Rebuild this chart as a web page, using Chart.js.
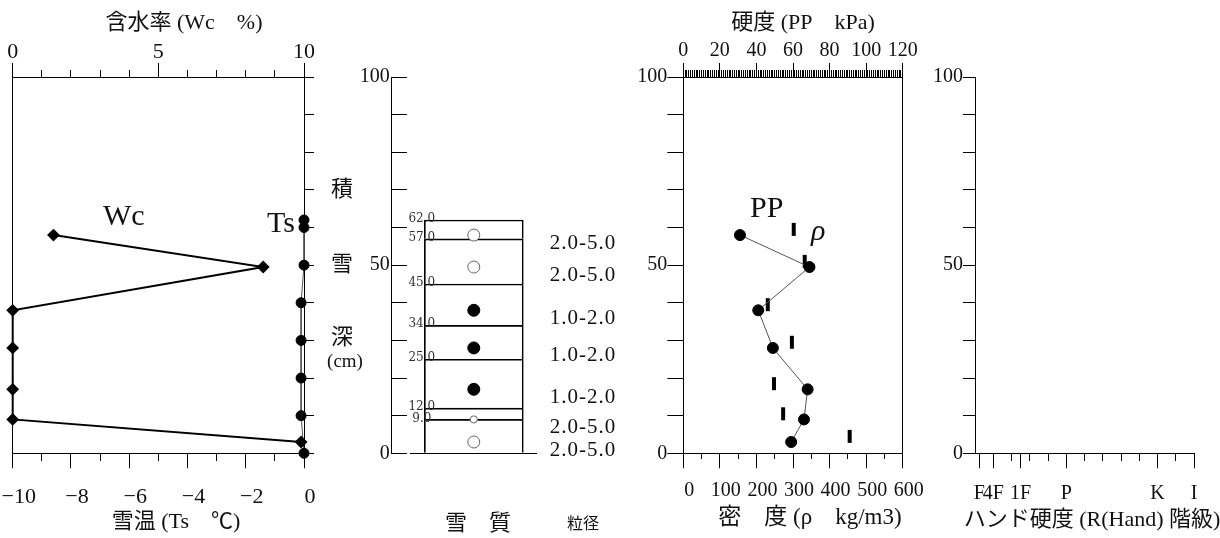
<!DOCTYPE html>
<html>
<head>
<meta charset="utf-8">
<script src="https://cdn.jsdelivr.net/npm/chart.js@4/dist/chart.umd.min.js"></script>
<style>
  body { margin: 0; background: #fff; }
  #wrap { position: relative; width: 1220px; height: 538px; overflow: hidden; }
  #wrap canvas { position: absolute; top: 0; }
</style>
</head>
<body>
<div id="wrap">
  <canvas id="c1" width="330" height="538" style="left:0px"></canvas>
  <canvas id="c2" width="300" height="538" style="left:320px"></canvas>
  <canvas id="c3" width="310" height="538" style="left:620px"></canvas>
  <canvas id="c4" width="300" height="538" style="left:920px"></canvas>
</div>
<script>
// sampling depths (cm) used for Wc, PP and the grain symbols
const sampleDepth = [58, 49.5, 38, 28, 17, 9, 3];
const waterContent = [1.4, 8.6, 0, 0, 0, 0, 9.9];   // Wc %
const hardnessPP = [31, 69, 41, 49, 68, 66, 59];     // kPa

// snow temperature profile
const tempDepth = [62, 60, 50, 40, 30, 20, 10, 0];
const snowTemp = [0, 0, 0, -0.1, -0.1, -0.1, -0.1, 0];

// density, one value per layer
const densityDepth = [59.5, 51, 39.5, 29.5, 18.5, 10.5, 4.5];
const density = [302, 332, 231, 297, 248, 273, 455];

// layers (top / bottom in cm), grain type and grain size
const layerTop = [62, 57, 45, 34, 25, 12, 9];
const layerBottom = [57, 45, 34, 25, 12, 9, 0];
const grainType = ['ざらめ雪', 'ざらめ雪', 'しまり雪', 'しまり雪', 'しまり雪', 'ざらめ雪', 'ざらめ雪'];
const grainSize = ['2.0-5.0', '2.0-5.0', '1.0-2.0', '1.0-2.0', '1.0-2.0', '2.0-5.0', '2.0-5.0'];

// hand hardness classes on the R scale
const handLabels = ['F', '4F', '1F', 'P', 'K', 'I'];
const handPos = [12, 50, 125, 250, 500, 600];

const SERIF = '"Liberation Serif", "Noto Sans CJK JP", serif';
Chart.defaults.font.family = SERIF;
Chart.defaults.color = '#111';
Chart.defaults.animation = false;
Chart.defaults.plugins.legend.display = false;
Chart.defaults.plugins.tooltip.enabled = false;

const BOX_X = 0.565;   // centre of the layer column on the hidden x axis
const BLACK = { color: '#000' };

// fix an axis to a set thickness so the four panels line up
function fixSize(size) {
    return scale => {
        if (scale.isHorizontal()) scale.height = size;
        else scale.width = size;
        scale.paddingLeft = scale.paddingRight = 0;
        scale.paddingTop = scale.paddingBottom = 0;
    };
}

// free text (titles, series names), given in page coordinates
function notes(left, items) {
    return {
        id: 'notes',
        afterDraw(chart) {
            const ctx = chart.ctx;
            ctx.save();
            items.forEach(it => {
                ctx.font = it.font || '22px ' + SERIF;
                ctx.fillStyle = '#111';
                ctx.textAlign = it.align || 'center';
                ctx.textBaseline = it.base || 'middle';
                ctx.fillText(it.text, it.x - left, it.y);
            });
            ctx.restore();
        }
    };
}

const depthTicks = (size, len, pad) => ({
    type: 'linear', min: 0, max: 100, afterFit: fixSize(size),
    ticks: { stepSize: 10, autoSkip: false, padding: pad, font: { size: 20, lineHeight: 1 },
        callback: v => v % 50 === 0 ? v : '' },
    grid: { drawOnChartArea: false, tickLength: len, color: '#000' },
    border: BLACK
});

// ---- panel 1: water content and snow temperature
new Chart(document.getElementById('c1'), {
    type: 'scatter',
    data: {
        datasets: [
            {
                xAxisID: 'wc', yAxisID: 'y', showLine: true, clip: false,
                data: sampleDepth.map((d, i) => ({ x: waterContent[i], y: d })),
                borderColor: '#000', borderWidth: 2,
                pointStyle: 'rectRot', pointRadius: 5,
                pointBackgroundColor: '#000', pointBorderColor: '#000'
            },
            {
                xAxisID: 'ts', yAxisID: 'y', showLine: true, clip: false,
                data: tempDepth.map((d, i) => ({ x: snowTemp[i], y: d })),
                borderColor: '#555', borderWidth: 1, pointRadius: 5,
                pointBackgroundColor: '#000', pointBorderColor: '#000'
            }
        ]
    },
    options: {
        responsive: false,
        scales: {
            wc: {
                axis: 'x', type: 'linear', position: 'top', min: 0, max: 10, afterFit: fixSize(77),
                ticks: { stepSize: 1, autoSkip: false, maxRotation: 0, padding: 0,
                    font: { size: 22, lineHeight: 1 }, callback: v => v % 5 === 0 ? v : '' },
                grid: { drawOnChartArea: false, tickLength: 14, color: '#000',
                    tickBorderDash: c => c.tick && c.tick.value % 5 !== 0 ? [7, 7] : [],
                    tickBorderDashOffset: 7 },
                border: BLACK
            },
            ts: {
                axis: 'x', type: 'linear', position: 'bottom', min: -10, max: 0, afterFit: fixSize(84.7),
                ticks: { stepSize: 1, autoSkip: false, maxRotation: 0, padding: 18, labelOffset: 6,
                    font: { size: 22, lineHeight: 1 },
                    callback: v => v % 2 === 0 ? String(v).replace('-', '\u2212') : '' },
                grid: { drawOnChartArea: false, tickLength: 15, color: '#000',
                    tickBorderDash: c => c.tick && c.tick.value % 2 !== 0 ? [7, 100] : [] },
                border: BLACK
            },
            y: {
                type: 'linear', position: 'right', min: 0, max: 100, afterFit: fixSize(26),
                ticks: { display: false, stepSize: 10 },
                grid: { drawOnChartArea: false, tickLength: 10, color: '#000' },
                border: BLACK
            },
            yl: {
                type: 'linear', position: 'left', min: 0, max: 100, afterFit: fixSize(12.7),
                ticks: { display: false }, grid: { display: false }, border: BLACK
            }
        }
    },
    plugins: [notes(0, [
        { text: '含水率 (Wc　%)', x: 184, y: 23 },
        { text: '雪温 (Ts　℃)', x: 176, y: 522 },
        { text: 'Wc', x: 103, y: 225, align: 'left', base: 'alphabetic', font: '30px ' + SERIF },
        { text: 'Ts', x: 267, y: 232, align: 'left', base: 'alphabetic', font: '30px ' + SERIF }
    ])]
});

// ---- panel 2: layers, grain type and grain size
const layerText = {
    id: 'layerText',
    afterDatasetsDraw(chart) {
        const { ctx, scales: { x, y } } = chart;
        const cx = x.getPixelForValue(BOX_X);
        ctx.save();
        ctx.textBaseline = 'middle';
        ctx.textAlign = 'center';
        ctx.fillStyle = '#333';
        ctx.font = '12px "DejaVu Serif"';
        layerTop.forEach(t => ctx.fillText(t.toFixed(1), cx - 52, y.getPixelForValue(t) - 1));
        ctx.textAlign = 'left';
        ctx.fillStyle = '#111';
        ctx.font = '21px "Liberation Serif"';
        ctx.letterSpacing = '1px';
        sampleDepth.forEach((d, i) => ctx.fillText(grainSize[i], cx + 76, y.getPixelForValue(d) + 8));
        ctx.restore();
    }
};

new Chart(document.getElementById('c2'), {
    type: 'scatter',
    data: {
        datasets: [
            {
                type: 'scatter',
                data: sampleDepth.map(d => ({ x: BOX_X, y: d })),
                pointRadius: c => {
                    const i = c.dataIndex || 0;
                    return Math.min(6, (layerTop[i] - layerBottom[i]) * 1.2);
                },
                pointBackgroundColor: c => grainType[c.dataIndex || 0] === 'しまり雪' ? '#000' : '#fff',
                pointBorderColor: c => grainType[c.dataIndex || 0] === 'しまり雪' ? '#000' : '#666',
                pointBorderWidth: 1
            },
            {
                type: 'bar',
                data: layerTop.map((t, i) => ({ x: BOX_X, y: [layerBottom[i], t] })),
                backgroundColor: 'rgba(0,0,0,0)', borderColor: '#000', borderWidth: 1,
                borderSkipped: 'bottom', barThickness: 99
            }
        ]
    },
    options: {
        responsive: false,
        layout: { padding: { top: 77, bottom: 84.7, right: 83 } },
        scales: {
            x: { type: 'linear', min: 0, max: 1, display: false, offset: false },
            y: {
                type: 'linear', position: 'left', min: 0, max: 100, afterFit: fixSize(71.7),
                ticks: { stepSize: 10, autoSkip: false, padding: 2, font: { size: 20, lineHeight: 1 },
                    callback: v => v % 50 === 0 ? v : '' },
                grid: { drawTicks: false, color: '#000', lineWidth: 1 },
                border: { color: '#000',
                    dash: c => c.type === 'tick' ? (c.tick.value === 0 ? [15, 3, 1000] : [15, 1000]) : [] }
            }
        }
    },
    plugins: [layerText, notes(320, [
        { text: '積', x: 342, y: 190 },
        { text: '雪', x: 342, y: 265 },
        { text: '深', x: 342, y: 338 },
        { text: '(cm)', x: 345, y: 362, font: '19px ' + SERIF },
        { text: '雪　質', x: 478, y: 524 },
        { text: '粒径', x: 583, y: 525, font: '16px ' + SERIF }
    ])]
});

// ---- panel 3: hardness (PP) and density
new Chart(document.getElementById('c3'), {
    type: 'scatter',
    data: {
        datasets: [
            {
                xAxisID: 'pp', yAxisID: 'y', showLine: true, clip: false,
                data: sampleDepth.map((d, i) => ({ x: hardnessPP[i], y: d })),
                borderColor: '#555', borderWidth: 1, pointRadius: 5.5,
                pointBackgroundColor: '#000', pointBorderColor: '#000'
            },
            {
                xAxisID: 'rho', yAxisID: 'y', clip: false,
                data: densityDepth.map((d, i) => ({ x: density[i], y: d })),
                pointStyle: 'line', pointRotation: 90, pointRadius: 6.5,
                pointBorderWidth: 4, pointBorderColor: '#000'
            }
        ]
    },
    options: {
        responsive: false,
        scales: {
            pp: {
                axis: 'x', type: 'linear', position: 'top', min: 0, max: 120, afterFit: fixSize(77),
                ticks: { stepSize: 1, autoSkip: false, maxRotation: 0, padding: 2,
                    font: { size: 20, lineHeight: 1 }, callback: v => v % 20 === 0 ? v : '' },
                grid: { drawOnChartArea: false, tickLength: 14, color: '#000',
                    tickBorderDash: c => c.tick && c.tick.value % 20 !== 0 ? [7, 7] : [],
                    tickBorderDashOffset: 7 },
                border: BLACK
            },
            rho: {
                axis: 'x', type: 'linear', position: 'bottom', min: 0, max: 600, afterFit: fixSize(84.7),
                ticks: { stepSize: 50, autoSkip: false, maxRotation: 0, padding: 12, labelOffset: 6,
                    font: { size: 20, lineHeight: 1 }, callback: v => v % 100 === 0 ? v : '' },
                grid: { drawOnChartArea: false, tickLength: 15, color: '#000',
                    tickBorderDash: c => c.tick && c.tick.value % 100 !== 0 ? [5, 100] : [] },
                border: BLACK
            },
            y: Object.assign(depthTicks(63.3, 16, 0), { position: 'left' }),
            yr: {
                type: 'linear', position: 'right', min: 0, max: 100, afterFit: fixSize(27.3),
                ticks: { display: false }, grid: { display: false }, border: BLACK
            }
        }
    },
    plugins: [notes(620, [
        { text: '硬度 (PP　kPa)', x: 803, y: 23 },
        { text: '密　度 (ρ　kg/m3)', x: 810, y: 518, font: '23px ' + SERIF },
        { text: 'PP', x: 750, y: 217, align: 'left', base: 'alphabetic', font: '30px ' + SERIF },
        { text: 'ρ', x: 811, y: 240, align: 'left', base: 'alphabetic', font: 'italic 30px ' + SERIF }
    ])]
});

// ---- panel 4: hand hardness (empty frame)
const handMinor = [50, 100, 150, 200, 250, 300, 350, 400, 450, 500, 550, 600].filter(v => handPos.indexOf(v) < 0);

new Chart(document.getElementById('c4'), {
    type: 'scatter',
    data: { datasets: [] },
    options: {
        responsive: false,
        layout: { padding: { top: 77, right: 26 } },
        scales: {
            hand: {
                axis: 'x', type: 'linear', position: 'bottom', min: 0, max: 600, afterFit: fixSize(84.7),
                afterBuildTicks: s => {
                    s.ticks = handPos.concat(handMinor).sort((a, b) => a - b).map(v => ({ value: v }));
                },
                ticks: { autoSkip: false, maxRotation: 0, padding: 15, font: { size: 20, lineHeight: 1 },
                    callback: v => {
                        const i = handPos.indexOf(v);
                        return i >= 0 ? handLabels[i] : '';
                    } },
                grid: { drawOnChartArea: false, tickLength: 15, color: '#000',
                    tickBorderDash: c => c.tick && handPos.indexOf(c.tick.value) < 0 ? [7, 100] : [] },
                border: BLACK
            },
            y: Object.assign(depthTicks(55, 12, 0), { position: 'left' })
        }
    },
    plugins: [notes(920, [
        { text: 'ハンド硬度 (R(Hand) 階級)', x: 1092, y: 520 }
    ])]
});
</script>
</body>
</html>
